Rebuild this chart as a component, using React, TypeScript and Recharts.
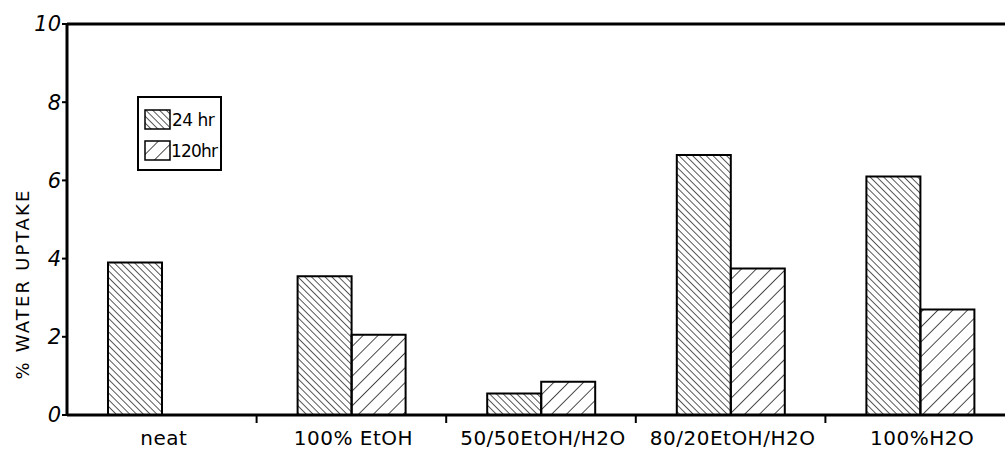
import { Bar, BarChart, Label, ReferenceLine, XAxis, YAxis } from "recharts";

const categories = ["neat", "100% EtOH", "50/50EtOH/H2O", "80/20EtOH/H2O", "100%H2O"];
const uptake24hr = [3.9, 3.55, 0.55, 6.65, 6.1];
const uptake120hr = [null, 2.05, 0.85, 3.75, 2.7];
const yTicks = [0, 2, 4, 6, 8, 10];

const FONT = "DejaVu Sans";

const data = categories.map((name, i) => ({
  name,
  h24: uptake24hr[i],
  h120: uptake120hr[i],
}));

function CategoryTick(props: any) {
  const { x, y, payload, index } = props;
  const half = payload?.offset ?? 95;
  const axisY = y - 8;
  return (
    <g>
      {index > 0 && (
        <line x1={x - half} x2={x - half} y1={axisY} y2={axisY + 8} stroke="#000" strokeWidth={2} />
      )}
      <text
        x={x + 2}
        y={axisY + 23}
        textAnchor="middle"
        dominantBaseline="central"
        fontFamily={FONT}
        fontSize={20}
        letterSpacing={0.5}
        fill="#000"
      >
        {payload.value}
      </text>
    </g>
  );
}

function Swatch({ id }: { id: string }) {
  return (
    <svg width={27} height={21} style={{ display: "block" }}>
      <rect x={1} y={1} width={25} height={19} fill={`url(#${id})`} stroke="#000" strokeWidth={1.5} />
    </svg>
  );
}

export default function App() {
  return (
    <div
      style={{
        position: "fixed",
        left: 0,
        top: 0,
        width: 1005,
        height: 455,
        overflow: "hidden",
        background: "#fff",
        fontFamily: FONT,
      }}
    >
      <svg width={0} height={0} style={{ position: "absolute" }}>
        <defs>
          <pattern id="hatch24" patternUnits="userSpaceOnUse" width={4.8} height={4.8} patternTransform="rotate(-45)">
            <line x1={0} y1={0} x2={0} y2={4.8} stroke="#000" strokeWidth={1.3} />
          </pattern>
          <pattern id="hatch120" patternUnits="userSpaceOnUse" width={10.5} height={10.5} patternTransform="rotate(45)">
            <line x1={0} y1={0} x2={0} y2={10.5} stroke="#000" strokeWidth={1.4} />
          </pattern>
        </defs>
      </svg>
      <BarChart
        width={1038}
        height={455}
        data={data}
        margin={{ top: 24, right: 23, left: 0, bottom: 0 }}
        barGap={0}
      >
        <XAxis
          dataKey="name"
          height={40}
          interval={0}
          axisLine={{ stroke: "#000", strokeWidth: 3 }}
          tickLine={false}
          tickSize={6}
          tick={<CategoryTick />}
        />
        <YAxis
          width={67}
          domain={[0, 10]}
          ticks={yTicks}
          interval={0}
          axisLine={{ stroke: "#000", strokeWidth: 3 }}
          tickLine={{ stroke: "#000", strokeWidth: 2 }}
          tickSize={5}
          tickMargin={1}
          tick={{ fill: "#000", fontSize: 21, fontStyle: "italic", fontFamily: FONT }}
        >
          <Label
            content={() => (
              <text
                x={22}
                y={284}
                transform="rotate(-90 22 284)"
                textAnchor="middle"
                dominantBaseline="central"
                fontFamily={FONT}
                fontSize={18}
                letterSpacing={2.2}
                fill="#000"
              >
                % WATER UPTAKE
              </text>
            )}
          />
        </YAxis>
        <ReferenceLine y={10} stroke="#000" strokeWidth={3} />
        <Bar dataKey="h24" fill="url(#hatch24)" stroke="#000" strokeWidth={2} barSize={54} isAnimationActive={false} />
        <Bar dataKey="h120" fill="url(#hatch120)" stroke="#000" strokeWidth={2} barSize={54} isAnimationActive={false} />
      </BarChart>
      <div
        style={{
          position: "absolute",
          left: 137,
          top: 96,
          width: 85,
          height: 75,
          border: "2px solid #000",
          boxSizing: "border-box",
          padding: "11px 0 0 5px",
        }}
      >
        <div style={{ display: "flex", alignItems: "center", height: 21, marginBottom: 10 }}>
          <Swatch id="hatch24" />
          <span style={{ fontSize: 17, letterSpacing: -0.5, marginLeft: 1 }}>24 hr</span>
        </div>
        <div style={{ display: "flex", alignItems: "center", height: 21 }}>
          <Swatch id="hatch120" />
          <span style={{ fontSize: 17, letterSpacing: -0.8, marginLeft: 0 }}>120hr</span>
        </div>
      </div>
    </div>
  );
}
